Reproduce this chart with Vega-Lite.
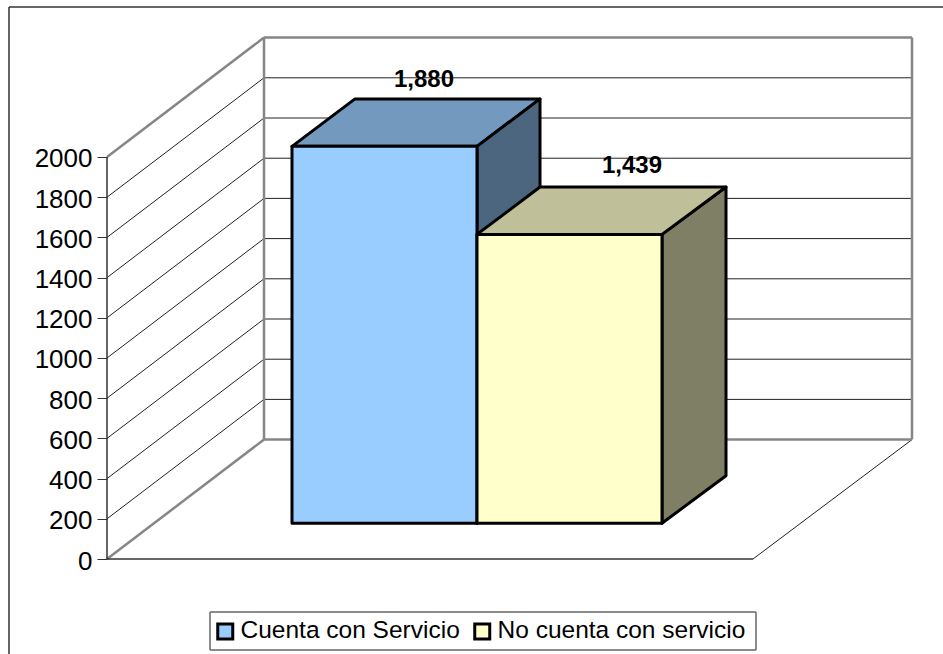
{"$schema":"https://vega.github.io/schema/vega-lite/v6.json","width":805,"height":522,"autosize":{"type":"none"},"padding":{"left":107,"top":37,"right":31,"bottom":95},"background":"white","config":{"view":{"stroke":null},"font":"Liberation Sans"},"datasets":{"caras":[
{"cara":"Cuenta con Servicio (arriba)","x":185,"y":2053,"y2":2053},{"cara":"Cuenta con Servicio (arriba)","x":248,"y":2053,"y2":2289},{"cara":"Cuenta con Servicio (arriba)","x":370,"y":2053,"y2":2289},{"cara":"Cuenta con Servicio (arriba)","x":433,"y":2289,"y2":2289},
{"cara":"Cuenta con Servicio (lado)","x":370,"y":178,"y2":2053},{"cara":"Cuenta con Servicio (lado)","x":433,"y":414,"y2":2289},
{"cara":"Cuenta con Servicio","x":185,"y":178,"y2":2053},{"cara":"Cuenta con Servicio","x":370,"y":178,"y2":2053},
{"cara":"No cuenta con servicio (lado)","x":555,"y":178,"y2":1615},{"cara":"No cuenta con servicio (lado)","x":619,"y":414,"y2":1851},
{"cara":"No cuenta con servicio (arriba)","x":370,"y":1615,"y2":1615},{"cara":"No cuenta con servicio (arriba)","x":433,"y":1615,"y2":1851},{"cara":"No cuenta con servicio (arriba)","x":555,"y":1615,"y2":1851},{"cara":"No cuenta con servicio (arriba)","x":619,"y":1851,"y2":1851},
{"cara":"No cuenta con servicio","x":370,"y":178,"y2":1615},{"cara":"No cuenta con servicio","x":555,"y":178,"y2":1615}],
"segmentos":[
{"tipo":"marco","x":-98,"y":2746,"x2":836,"y2":2746},{"tipo":"marco","x":-98,"y":2746,"x2":-98,"y2":-473},
{"tipo":"reja","x":0,"y":200,"x2":157,"y2":794},{"tipo":"reja","x":0,"y":400,"x2":157,"y2":994},{"tipo":"reja","x":0,"y":600,"x2":157,"y2":1194},{"tipo":"reja","x":0,"y":800,"x2":157,"y2":1394},{"tipo":"reja","x":0,"y":1000,"x2":157,"y2":1594},{"tipo":"reja","x":0,"y":1200,"x2":157,"y2":1794},{"tipo":"reja","x":0,"y":1400,"x2":157,"y2":1994},{"tipo":"reja","x":0,"y":1600,"x2":157,"y2":2194},{"tipo":"reja","x":0,"y":1800,"x2":157,"y2":2394},
{"tipo":"reja","x":157,"y":794,"x2":805,"y2":794},{"tipo":"reja","x":157,"y":994,"x2":805,"y2":994},{"tipo":"reja","x":157,"y":1194,"x2":805,"y2":1194},{"tipo":"reja","x":157,"y":1394,"x2":805,"y2":1394},{"tipo":"reja","x":157,"y":1594,"x2":805,"y2":1594},{"tipo":"reja","x":157,"y":1794,"x2":805,"y2":1794},{"tipo":"reja","x":157,"y":1994,"x2":805,"y2":1994},{"tipo":"reja","x":157,"y":2194,"x2":805,"y2":2194},{"tipo":"reja","x":157,"y":2394,"x2":805,"y2":2394},
{"tipo":"reja","x":646,"y":0,"x2":805,"y2":594},
{"tipo":"pared","x":0,"y":0,"x2":157,"y2":594},{"tipo":"pared","x":0,"y":2000,"x2":157,"y2":2594},{"tipo":"pared","x":157,"y":594,"x2":805,"y2":594},{"tipo":"pared","x":157,"y":2594,"x2":805,"y2":2594},{"tipo":"pared","x":157,"y":594,"x2":157,"y2":2594},{"tipo":"pared","x":805,"y":594,"x2":805,"y2":2594},
{"tipo":"suelo","x":0,"y":0,"x2":646,"y2":0},
{"tipo":"eje","x":0,"y":0,"x2":0,"y2":2000},
{"tipo":"leyenda","x":103,"y":-264,"x2":649,"y2":-264},{"tipo":"leyenda","x":103,"y":-453,"x2":649,"y2":-453},{"tipo":"leyenda","x":103,"y":-264,"x2":103,"y2":-453},{"tipo":"leyenda","x":649,"y":-264,"x2":649,"y2":-453}],
"etiquetas":[{"x":317,"y":2383,"valor":1880},{"x":525,"y":1955,"valor":1439}]},
"layer":[
{"data":{"name":"segmentos"},"transform":[{"filter":"datum.tipo==='reja'"}],"mark":{"type":"rule","clip":false,"stroke":"#222222","strokeWidth":1},"encoding":{
"x":{"field":"x","type":"quantitative","scale":{"domain":[0,805],"nice":false,"zero":false},"axis":null},
"y":{"field":"y","type":"quantitative","scale":{"domain":[0,2597],"nice":false,"zero":false},"axis":{"values":[0,200,400,600,800,1000,1200,1400,1600,1800,2000],"title":null,"domain":false,"grid":false,"tickSize":10,"tickColor":"#333333","tickWidth":1,"labelFontSize":26,"labelColor":"black","labelPadding":5,"labelOffset":2,"labelFont":"Liberation Sans","format":"d"}},
"x2":{"field":"x2"},"y2":{"field":"y2"}}},
{"data":{"name":"segmentos"},"transform":[{"filter":"datum.tipo==='pared'"}],"mark":{"type":"rule","clip":false,"stroke":"#868686","strokeWidth":2.5},"encoding":{
"x":{"field":"x","type":"quantitative"},"y":{"field":"y","type":"quantitative"},"x2":{"field":"x2"},"y2":{"field":"y2"}}},
{"data":{"name":"segmentos"},"transform":[{"filter":"datum.tipo==='marco'||datum.tipo==='suelo'||datum.tipo==='eje'"}],"mark":{"type":"rule","clip":false,"stroke":"#333333","strokeWidth":1.5},"encoding":{
"x":{"field":"x","type":"quantitative"},"y":{"field":"y","type":"quantitative"},"x2":{"field":"x2"},"y2":{"field":"y2"}}},
{"data":{"name":"segmentos"},"transform":[{"filter":"datum.tipo==='leyenda'"}],"mark":{"type":"rule","clip":false,"stroke":"#666666","strokeWidth":1.5},"encoding":{
"x":{"field":"x","type":"quantitative"},"y":{"field":"y","type":"quantitative"},"x2":{"field":"x2"},"y2":{"field":"y2"}}},
{"data":{"name":"caras"},"mark":{"type":"area","stroke":"black","strokeWidth":3,"strokeJoin":"round","clip":false,"opacity":1},"encoding":{
"x":{"field":"x","type":"quantitative"},"y":{"aggregate":"max","field":"y","type":"quantitative","stack":null},"y2":{"aggregate":"max","field":"y2"},
"color":{"field":"cara","type":"nominal","sort":null,"scale":{"domain":["Cuenta con Servicio","No cuenta con servicio","Cuenta con Servicio (arriba)","Cuenta con Servicio (lado)","No cuenta con servicio (lado)","No cuenta con servicio (arriba)"],"range":["#99CCFF","#FFFFCC","#7399BF","#4C667F","#7F7F66","#BFBF99"]},
"legend":{"values":["Cuenta con Servicio","No cuenta con servicio"],"title":null,"orient":"none","legendX":99,"legendY":575,"direction":"horizontal","columns":2,"symbolType":"square","symbolSize":225,"symbolStrokeColor":"black","symbolStrokeWidth":3,"symbolOpacity":1,"labelFontSize":24.5,"labelFont":"Liberation Sans","labelColor":"black","labelOffset":3,"columnPadding":8,"padding":7,"labelLimit":400}}}},
{"data":{"name":"etiquetas"},"mark":{"type":"text","fontWeight":"bold","fontSize":24,"font":"Liberation Sans","color":"black","baseline":"middle","align":"center","clip":false},"encoding":{
"x":{"field":"x","type":"quantitative"},"y":{"field":"y","type":"quantitative"},"text":{"field":"valor","type":"quantitative","format":","}}}
]}
